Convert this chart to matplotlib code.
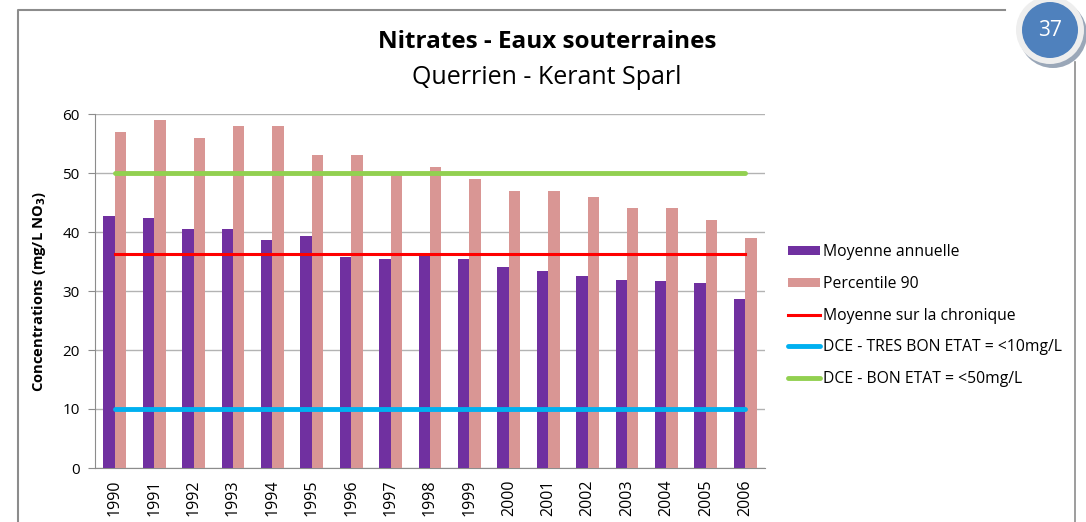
import matplotlib
matplotlib.use("Agg")
import matplotlib.pyplot as plt
from matplotlib.patches import Circle
import numpy as np

plt.rcParams['font.family'] = ['Open Sans', 'DejaVu Sans']

years = ["1990", "1991", "1992", "1993", "1994", "1995", "1996", "1997", "1998",
         "1999", "2000", "2001", "2002", "2003", "2004", "2005", "2006"]
moyenne_annuelle = [42.7, 42.4, 40.5, 40.5, 38.6, 39.3, 35.8, 35.4, 36.3,
                    35.4, 34.0, 33.4, 32.5, 31.9, 31.7, 31.3, 28.6]
percentile_90 = [57, 59, 56, 58, 58, 53, 53, 50, 51, 49, 47, 47, 46, 44, 44, 42, 39]
moyenne_chronique = 36.3
seuil_tres_bon = 10
seuil_bon = 50

W, H = 1086, 522
fig = plt.figure(figsize=(W / 100, H / 100), dpi=100)

# page frame and page-number badge
frame = fig.add_axes([0, 0, 1, 1])
frame.set_xlim(0, W)
frame.set_ylim(H, 0)
frame.axis("off")
frame.plot([18, 18, 1005], [H, 10, 10], color="#8c8c8c", lw=1.5)
frame.plot([1075, 1075], [62, H], color="#8c8c8c", lw=1.2)
frame.add_patch(Circle((1053, 34), 34, facecolor="#9aa7b8", edgecolor="none"))
frame.add_patch(Circle((1050, 30), 34, facecolor="#eeeeee", edgecolor="none"))
frame.add_patch(Circle((1050, 30), 28, facecolor="#4f81bd", edgecolor="none"))
frame.text(1050, 31, "37", color="white", fontsize=15, ha="center", va="center")

# titles
frame.text(547, 42, "Nitrates - Eaux souterraines", fontsize=17.5, fontweight="bold",
           ha="center", va="center")
frame.text(547, 77, "Querrien - Kerant Sparl", fontsize=18, ha="center", va="center")

ax = fig.add_axes([95 / W, 1 - 468 / H, 670 / W, (468 - 114) / H])
x = np.arange(len(years))
bw = 0.29
ax.bar(x - bw / 2, moyenne_annuelle, width=bw, color="#7030a0", zorder=3,
       label="Moyenne annuelle")
ax.bar(x + bw / 2, percentile_90, width=bw, color="#d99694", zorder=3,
       label="Percentile 90")
ax.plot(x, [moyenne_chronique] * len(x), color="#ff0000", lw=2.2, zorder=4,
        label="Moyenne sur la chronique")
ax.plot(x, [seuil_tres_bon] * len(x), color="#00b0f0", lw=3.5, zorder=4,
        solid_capstyle="round", label="DCE - TRES BON ETAT = <10mg/L")
ax.plot(x, [seuil_bon] * len(x), color="#92d050", lw=3.5, zorder=4,
        solid_capstyle="round", label="DCE - BON ETAT = <50mg/L")

ax.set_xlim(-0.5, len(years) - 0.5)
ax.set_ylim(0, 60)
ax.set_yticks(range(0, 61, 10))
ax.set_xticks(x)
ax.set_xticklabels(years, rotation=90, fontsize=11.5)
ax.tick_params(axis="x", length=0, pad=8)
ax.tick_params(axis="y", length=5, color="#8c8c8c", labelsize=11, pad=6)
ax.grid(axis="y", color="#b3b3b3", lw=1, zorder=0)
for s in ["top", "right"]:
    ax.spines[s].set_visible(False)
ax.spines["left"].set_color("#8c8c8c")
ax.spines["bottom"].set_color("#8c8c8c")
ax.set_ylabel("Concentrations (mg/L NO$_\\mathbf{3}$)", fontsize=10.6, fontweight="bold",
              labelpad=10)

handles, labels = ax.get_legend_handles_labels()
order = [3, 4, 0, 1, 2]
fig.legend([handles[i] for i in order], [labels[i] for i in order],
           loc="upper left", bbox_to_anchor=(782 / W, 1 - 238 / H), frameon=False,
           fontsize=11.3, handlelength=2.0, handleheight=0.5, handletextpad=0.2,
           labelspacing=1.0, borderaxespad=0)

fig.savefig("out.png", dpi=100)
